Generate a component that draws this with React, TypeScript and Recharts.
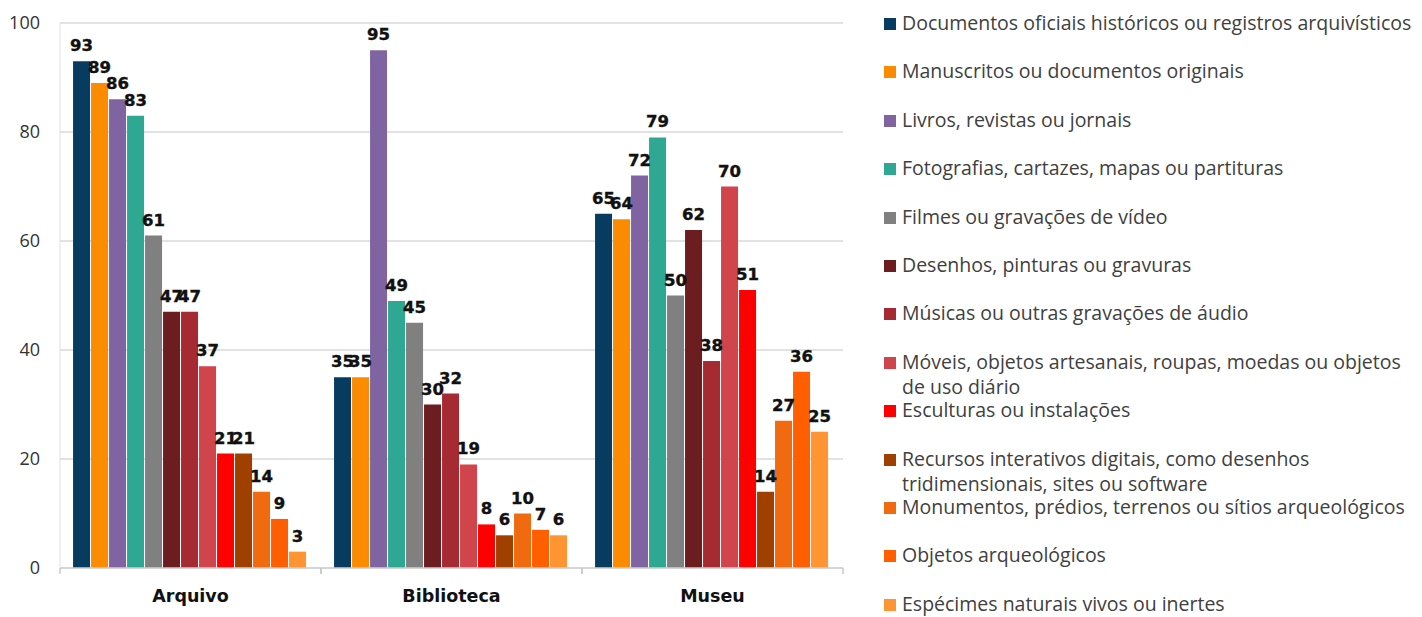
import { Bar, BarChart, CartesianGrid, LabelList, XAxis, YAxis } from 'recharts';

const categories = ['Arquivo', 'Biblioteca', 'Museu'];

const seriesNames = [
  'Documentos oficiais históricos ou registros arquivísticos',
  'Manuscritos ou documentos originais',
  'Livros, revistas ou jornais',
  'Fotografias, cartazes, mapas ou partituras',
  'Filmes ou gravações de vídeo',
  'Desenhos, pinturas ou gravuras',
  'Músicas ou outras gravações de áudio',
  'Móveis, objetos artesanais, roupas, moedas ou objetos de uso diário',
  'Esculturas ou instalações',
  'Recursos interativos digitais, como desenhos tridimensionais, sites ou software',
  'Monumentos, prédios, terrenos ou sítios arqueológicos',
  'Objetos arqueológicos',
  'Espécimes naturais vivos ou inertes',
];

const seriesColors = [
  '#073c60',
  '#fb8b00',
  '#8064a2',
  '#2fa893',
  '#808080',
  '#6b1d1f',
  '#a52a32',
  '#d0454b',
  '#ff0000',
  '#a04000',
  '#f06a10',
  '#ff5f00',
  '#ff9433',
];

const arquivoValues = [93, 89, 86, 83, 61, 47, 47, 37, 21, 21, 14, 9, 3];
const bibliotecaValues = [35, 35, 95, 49, 45, 30, 32, 19, 8, 6, 10, 7, 6];
const museuValues = [65, 64, 72, 79, 50, 62, 38, 70, 51, 14, 27, 36, 25];

const yTicks = [0, 20, 40, 60, 80, 100];

const valuesByCategory = [arquivoValues, bibliotecaValues, museuValues];

const data = categories.map((name, ci) => {
  const row: Record<string, string | number> = { name };
  seriesNames.forEach((_, si) => {
    row['s' + si] = valuesByCategory[ci][si];
  });
  return row;
});

const font = '"Open Sans", "DejaVu Sans", sans-serif';
const boldFont = '"DejaVu Sans", sans-serif';
const TICK_MARGIN = 16;

// category label plus small tick marks on the band edges
const CategoryTick = (props: any) => {
  const { x, y, payload } = props;
  const half = payload.offset || 0;
  const axisY = y - 6 - TICK_MARGIN;
  return (
    <g>
      <line x1={x - half} x2={x - half} y1={axisY} y2={axisY + 6} stroke="#c8c8c8" strokeWidth={1.5} />
      <line x1={x + half} x2={x + half} y1={axisY} y2={axisY + 6} stroke="#c8c8c8" strokeWidth={1.5} />
      <text
        x={x}
        y={y}
        dy="0.71em"
        textAnchor="middle"
        fill="#111"
        fontSize={17.5}
        fontWeight={700}
        fontFamily={boldFont}
      >
        {payload.value}
      </text>
    </g>
  );
};

const App = () => {
  return (
    <div style={{ position: 'absolute', left: 0, top: 0, width: 1422, height: 617, background: '#fff', fontFamily: font }}>
      <BarChart
        width={860}
        height={617}
        data={data}
        margin={{ top: 23, right: 17, left: 0, bottom: 9 }}
        barCategoryGap="5%"
        barGap={1}
      >
        <CartesianGrid vertical={false} stroke="#d9d9d9" strokeWidth={1.5} />
        <XAxis
          dataKey="name"
          height={40}
          tickLine={false}
          axisLine={{ stroke: '#d0d0d0', strokeWidth: 1.5 }}
          tickMargin={TICK_MARGIN}
          tick={CategoryTick}
        />
        <YAxis
          width={60}
          domain={[0, 100]}
          ticks={yTicks}
          tickLine={false}
          axisLine={{ stroke: '#e0e0e0' }}
          tickMargin={14}
          tick={{ fill: '#333', fontSize: 18, fontFamily: font }}
        />
        {seriesNames.map((s, i) => (
          <Bar key={s} dataKey={'s' + i} name={s} fill={seriesColors[i]} isAnimationActive={false}>
            <LabelList
              dataKey={'s' + i}
              position="top"
              offset={10}
              style={{
                fill: '#111',
                stroke: '#111',
                strokeWidth: 0.4,
                fontSize: 16.5,
                fontWeight: 700,
                fontFamily: boldFont,
              }}
            />
          </Bar>
        ))}
      </BarChart>
      <div style={{ position: 'absolute', left: 884, top: 10, width: 538 }}>
        {seriesNames.map((s, i) => (
          <div key={s} style={{ height: 48.4, display: 'flex', alignItems: 'flex-start' }}>
            <div
              style={{ width: 12, height: 12, background: seriesColors[i], marginTop: 8, marginRight: 6, flex: 'none' }}
            />
            <div style={{ width: 520, fontSize: 19.5, lineHeight: '25px', color: '#404040' }}>{s}</div>
          </div>
        ))}
      </div>
    </div>
  );
};

export default App;
